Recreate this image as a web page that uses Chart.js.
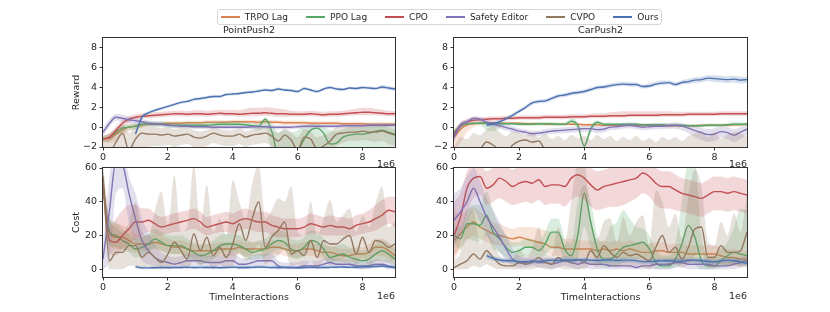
<!DOCTYPE html>
<html>
<head>
<meta charset="utf-8">
<script src="https://cdn.jsdelivr.net/npm/chart.js@4.4.1/dist/chart.umd.min.js"></script>
<style>
  body { margin: 0; background: #fff; width: 830px; height: 312px; overflow: hidden; position: relative; font-family: "DejaVu Sans", sans-serif; }
  canvas { position: absolute; }
  #legend { position: absolute; left: 217px; top: 9px; width: 443px; height: 14px; border: 1px solid #d6d6d6; border-radius: 3px;
            display: flex; align-items: center; justify-content: center; gap: 18px; font-size: 9px; color: #262626;
            background: rgba(255,255,255,0.85); z-index: 5; }
  .item { display: flex; align-items: center; white-space: nowrap; }
  .sw { width: 19px; height: 1.5px; margin-right: 5px; }
</style>
</head>
<body>
<div id="legend"></div>
<canvas id="pr" width="410" height="152" style="left:0;top:20px"></canvas>
<canvas id="cr" width="420" height="152" style="left:410px;top:20px"></canvas>
<canvas id="pc" width="410" height="162" style="left:0;top:150px"></canvas>
<canvas id="cc" width="420" height="162" style="left:410px;top:150px"></canvas>
<script>
// timesteps (x 1e6)
const X = [0,0.2,0.4,0.6,0.8, 1,1.2,1.4,1.6,1.8, 2,2.2,2.4,2.6,2.8, 3,3.2,3.4,3.6,3.8, 4,4.2,4.4,4.6,4.8,
           5,5.2,5.4,5.6,5.8, 6,6.2,6.4,6.6,6.8, 7,7.2,7.4,7.6,7.8, 8,8.2,8.4,8.6,8.8, 9];
const SERIES = ['TRPO Lag', 'PPO Lag', 'CPO', 'Safety Editor', 'CVPO', 'Ours'];
const COLORS = ['#dd8452', '#55a868', '#c44e52', '#8172b3', '#937860', '#4c72b0'];
const X_TICKS = [0, 2, 4, 6, 8];
const REWARD_TICKS = [-2, 0, 2, 4, 6, 8];
const COST_TICKS = [0, 20, 40, 60];
const N = null;

// PointPush2 reward
const prTrpo   = [-1.2,-1.1,-0.7,-0.3,0, 0.1,0.2,0.3,0.3,0.35, 0.4,0.4,0.4,0.45,0.45, 0.45,0.5,0.5,0.5,0.5, 0.55,0.55,0.55,0.55,0.5, 0.55,0.5,0.5,0.45,0.45, 0.45,0.45,0.4,0.4,0.4, 0.4,0.4,0.35,0.35,0.35, 0.35,0.3,0.3,0.3,0.3, 0.3];
const prTrpoLo = [-1.5,-1.6,-1.4,-0.9,-0.4, -0.2,-0.05,0.1,0.1,0.15, 0.2,0.2,0.2,0.25,0.25, 0.25,0.3,0.3,0.3,0.3, 0.35,0.35,0.35,0.35,0.3, 0.35,0.3,0.3,0.25,0.25, 0.25,0.25,0.2,0.2,0.2, 0.2,0.2,0.15,0.15,0.15, 0.15,0.1,0.1,0.1,0.1, 0.1];
const prTrpoHi = [-0.9,-0.7,-0.3,0.1,0.3, 0.35,0.45,0.5,0.5,0.55, 0.6,0.6,0.6,0.65,0.65, 0.65,0.7,0.7,0.7,0.7, 0.75,0.75,0.75,0.75,0.7, 0.75,0.7,0.7,0.65,0.65, 0.65,0.65,0.6,0.6,0.6, 0.6,0.6,0.55,0.55,0.55, 0.55,0.5,0.5,0.5,0.5, 0.5];
const prPpo    = [-1.2,-1,-0.5,-0.1,0, 0.1,0.3,0.35,0.3,0.3, 0.25,0.2,0.2,0.2,0.2, 0.2,0.2,0.25,0.3,0.3, 0.3,0.3,0.25,0.15,0.1, 0.8,-0.4,-3,-3.5,-3.2, -2.5,-1.2,-0.3,-0.1,-0.6, -1.7,-1.6,-1,-0.8,-0.7, -0.7,-0.6,-0.4,-0.3,-0.5, -0.7];
const prPpoLo  = [-1.5,-1.4,-0.9,-0.5,-0.3, -0.2,0,0.05,0,0, -0.05,-0.1,-0.1,-0.1,-0.1, -0.1,-0.1,-0.05,0,0, 0,0,-0.05,-0.15,-0.3, 0,-2.5,-4,-4,-4, -4,-4,-3,-2.5,-3, -4,-4,-3.5,-3,-2.8, -2.6,-2.5,-2.4,-2.3,-2.5, -2.6];
const prPpoHi  = [-0.9,-0.6,-0.1,0.25,0.3, 0.4,0.6,0.65,0.6,0.6, 0.55,0.5,0.5,0.5,0.5, 0.5,0.5,0.55,0.6,0.6, 0.6,0.6,0.55,0.45,0.4, 1,0.4,-0.5,-0.3,-0.5, -0.3,0.1,0.3,0.3,0.1, -0.3,-0.4,-0.2,0,0, 0,0.1,0.2,0.3,0.2, 0];
const prCpo    = [-1.2,-1,-0.3,0.4,0.8, 1,1.1,1.15,1.2,1.25, 1.3,1.35,1.35,1.3,1.35, 1.35,1.3,1.35,1.4,1.35, 1.35,1.3,1.35,1.4,1.4, 1.45,1.4,1.35,1.35,1.3, 1.3,1.3,1.35,1.3,1.25, 1.3,1.3,1.35,1.4,1.45, 1.5,1.5,1.45,1.4,1.35, 1.35];
const prCpoLo  = [-1.5,-1.4,-0.7,0,0.45, 0.7,0.85,0.9,0.95,1, 1.05,1.1,1.1,1.05,1.1, 1.1,1.05,1.1,1.15,1.1, 1.1,1.05,1.05,1.1,1.1, 1.15,1.1,1.05,1.05,1.05, 1.05,1.05,1.1,1.05,1, 1.05,1.05,1.1,1.15,1.2, 1.2,1.2,1.2,1.15,1.1, 1.1];
const prCpoHi  = [-0.9,-0.6,0.1,0.75,1.1, 1.3,1.4,1.45,1.5,1.55, 1.6,1.65,1.65,1.6,1.7, 1.7,1.65,1.7,1.75,1.7, 1.75,1.7,1.85,1.95,1.95, 2,1.95,1.85,1.8,1.65, 1.6,1.6,1.65,1.6,1.55, 1.6,1.6,1.65,1.75,1.85, 1.95,1.95,1.85,1.75,1.65, 1.6];
const prSafe   = [-0.5,0.4,1,0.9,0.75, 0.65,0.55,0.4,0.35,0.3, 0.2,0.15,0.1,0.1,0.05, 0.05,0.05,0,0,0, 0,0,0,0.05,0.05, 0.05,0,0,0,0, 0.05,0.1,0.1,0.1,0.1, 0.1,0.1,0.15,0.15,0.15, 0.15,0.2,0.2,0.2,0.2, 0.2];
const prSafeLo = [-0.9,0,0.65,0.55,0.4, 0.3,0.25,0.15,0.1,0.1, 0,-0.05,-0.1,-0.1,-0.15, -0.15,-0.15,-0.2,-0.2,-0.2, -0.2,-0.2,-0.2,-0.15,-0.15, -0.15,-0.2,-0.2,-0.2,-0.2, -0.15,-0.1,-0.1,-0.1,-0.1, -0.1,-0.1,-0.05,-0.05,-0.05, -0.05,0,0,0,0, 0];
const prSafeHi = [-0.1,0.8,1.35,1.25,1.1, 1,0.85,0.65,0.6,0.5, 0.4,0.35,0.3,0.3,0.25, 0.25,0.25,0.2,0.2,0.2, 0.2,0.2,0.2,0.25,0.25, 0.25,0.2,0.2,0.2,0.2, 0.25,0.3,0.3,0.3,0.3, 0.3,0.3,0.35,0.35,0.35, 0.35,0.4,0.4,0.4,0.4, 0.4];
const prCvpo   = [-2.5,-2.5,-1.5,-0.6,-2.3, -1.2,-0.6,-0.7,-0.7,-0.8, -0.7,-0.9,-0.8,-0.7,-1, -1.1,-0.9,-0.6,-0.8,-0.9, -0.9,-0.7,-1,-0.8,-0.7, -0.6,-0.9,-1.4,-0.8,-1.3, -2.3,-1,-1.2,-2.2,-1.9, -1.4,-0.7,-0.6,-0.5,-0.5, -0.4,-0.5,-0.5,-0.4,-0.6, -0.8];
const prCvpoLo = [-4,-4,-3,-2.5,-4, -3,-2.2,-2,-1.9,-1.9, -1.8,-2,-1.8,-1.7,-2, -2.1,-1.9,-1.6,-1.8,-1.9, -1.9,-1.7,-2,-1.8,-1.7, -1.6,-2,-2.6,-2,-2.5, -3.5,-2.4,-2.6,-3.5,-3.2, -2.8,-1.9,-1.6,-1.4,-1.4, -1.3,-1.4,-1.5,-1.4,-1.7, -1.9];
const prCvpoHi = [-1.5,-1.2,-0.4,0.2,-0.6, 0,0.1,0.05,0,-0.1, 0,-0.2,-0.1,-0.1,-0.3, -0.4,-0.3,0,-0.2,-0.3, -0.3,-0.1,-0.4,-0.2,-0.1, 0,-0.3,-0.6,-0.1,-0.5, -1,-0.2,-0.4,-1,-0.8, -0.5,0,0,0.1,0.1, 0.2,0.1,0.1,0.2,0, -0.2];
const prOurs   = [N,N,N,N,N, -0.7,1,1.45,1.7,1.9, 2.1,2.3,2.5,2.6,2.8, 2.9,3,3.1,3.1,3.3, 3.35,3.4,3.5,3.55,3.65, 3.75,3.7,3.85,3.75,3.7, 3.6,3.9,3.75,3.6,3.85, 4,3.85,3.8,3.95,3.9, 4,3.95,3.9,4.05,3.95, 3.85];
const prOursLo = [N,N,N,N,N, -0.9,0.8,1.3,1.55,1.75, 1.95,2.15,2.35,2.45,2.65, 2.75,2.85,2.95,2.95,3.15, 3.2,3.25,3.35,3.4,3.5, 3.6,3.55,3.7,3.6,3.55, 3.45,3.75,3.6,3.45,3.7, 3.85,3.7,3.65,3.8,3.75, 3.85,3.8,3.75,3.85,3.75, 3.65];
const prOursHi = [N,N,N,N,N, -0.5,1.2,1.6,1.85,2.05, 2.25,2.45,2.65,2.75,2.95, 3.05,3.15,3.25,3.25,3.45, 3.5,3.55,3.65,3.7,3.8, 3.9,3.85,4,3.9,3.85, 3.75,4.05,3.9,3.75,4, 4.15,4,3.95,4.1,4.05, 4.15,4.1,4.05,4.25,4.15, 4.05];

// CarPush2 reward
const crTrpo   = [-1,-0.2,0.2,0.35,0.4, 0.45,0.45,0.4,0.4,0.4, 0.4,0.35,0.35,0.35,0.3, 0.3,0.3,0.3,0.3,0.3, 0.25,0.25,0.25,0.2,0.2, 0.2,0.2,0.2,0.2,0.2, 0.2,0.2,0.15,0.15,0.15, 0.15,0.15,0.15,0.2,0.2, 0.2,0.2,0.2,0.25,0.25, 0.3];
const crTrpoLo = [-2.5,-1.5,-0.5,0,0.2, 0.25,0.3,0.25,0.25,0.25, 0.25,0.2,0.2,0.2,0.15, 0.15,0.15,0.15,0.15,0.15, 0.1,0.1,0.1,0.05,0.05, 0.05,0.05,0.05,0.05,0.05, 0.05,0.05,0,0,0, 0,0,0,0.05,0.05, 0.05,0.05,0.05,0.1,0.1, 0.15];
const crTrpoHi = [-0.3,0.2,0.4,0.55,0.6, 0.6,0.6,0.55,0.55,0.55, 0.55,0.5,0.5,0.5,0.45, 0.45,0.45,0.45,0.45,0.45, 0.4,0.4,0.4,0.35,0.35, 0.35,0.35,0.35,0.35,0.35, 0.35,0.35,0.3,0.3,0.3, 0.3,0.3,0.3,0.35,0.35, 0.35,0.35,0.35,0.4,0.4, 0.45];
const crPpo    = [-0.5,0.1,0.35,0.4,0.4, 0.4,0.35,0.35,0.35,0.35, 0.3,0.3,0.3,0.35,0.35, 0.35,0.3,0.3,0.6,0.2, -1.9,-0.2,0.5,0.3,0.3, 0.3,0.3,0.3,0.3,0.25, 0.25,0.25,0.25,0.2,0.2, 0.2,0.15,0.15,0.15,0.2, 0.2,0.2,0.25,0.3,0.3, 0.3];
const crPpoLo  = [-0.9,-0.2,0.2,0.25,0.2, -0.3,-0.4,-0.1,0.2,0.2, 0.15,0.15,0.15,0.2,0.2, 0.2,0.15,0.15,0.3,-0.2, -2.2,-0.6,0.3,0.15,0.15, 0.15,0.15,0.15,0.15,0.1, 0.1,0.1,0.1,0.05,0.05, 0.05,0,0,0,0.05, 0.05,0.05,0.1,0.15,0.15, 0.15];
const crPpoHi  = [-0.2,0.35,0.5,0.55,0.55, 0.55,0.5,0.5,0.5,0.5, 0.45,0.45,0.45,0.5,0.5, 0.5,0.45,0.45,0.9,0.5, -1.6,0.2,0.7,0.45,0.45, 0.45,0.45,0.45,0.45,0.4, 0.4,0.4,0.4,0.35,0.35, 0.35,0.3,0.3,0.3,0.35, 0.35,0.35,0.4,0.5,0.5, 0.45];
const crCpo    = [-0.8,0.2,0.55,0.7,0.75, 0.8,0.85,0.85,0.9,0.9, 0.95,0.95,0.95,0.95,1, 1,1,1,1.05,1.05, 1.05,1.1,1.1,1.1,1.15, 1.15,1.15,1.2,1.2,1.2, 1.2,1.2,1.25,1.25,1.25, 1.25,1.3,1.3,1.3,1.3, 1.3,1.35,1.35,1.35,1.35, 1.35];
const crCpoLo  = [-1.4,-0.3,0.3,0.5,0.55, 0.6,0.65,0.65,0.7,0.7, 0.75,0.75,0.75,0.75,0.8, 0.8,0.8,0.8,0.85,0.85, 0.85,0.9,0.9,0.9,0.95, 0.95,0.95,1,1,1, 1,1,1.05,1.05,1.05, 1.05,1.1,1.1,1.1,1.1, 1.1,1.15,1.15,1.15,1.15, 1.15];
const crCpoHi  = [-0.3,0.55,0.8,0.95,1, 1.05,1.1,1.1,1.15,1.15, 1.2,1.2,1.2,1.2,1.25, 1.25,1.25,1.25,1.3,1.3, 1.3,1.35,1.4,1.4,1.5, 1.55,1.6,1.6,1.6,1.6, 1.6,1.6,1.6,1.6,1.55, 1.55,1.55,1.55,1.55,1.55, 1.55,1.6,1.6,1.6,1.6, 1.6];
const crSafe   = [-1,0.25,0.55,0.9,0.8, 0.5,0.3,0.15,-0.05,-0.2, -0.4,-0.5,-0.65,-0.6,-0.5, -0.4,-0.35,-0.3,-0.25,-0.2, -0.15,-0.15,-0.25,-0.2,0, 0.05,0.15,0.2,0.1,0, 0.05,0.1,0.1,0.15,0.2, 0.1,-0.1,-0.35,-0.55,-0.75, -0.7,-0.45,-0.55,-0.8,-0.5, -0.2];
const crSafeLo = [-1.5,-0.1,0.3,0.65,0.55, 0.2,0,-0.15,-0.35,-0.5, -0.7,-0.8,-0.95,-0.9,-0.8, -0.7,-0.65,-0.6,-0.55,-0.5, -0.5,-0.45,-0.6,-0.5,-0.3, -0.25,-0.15,-0.1,-0.2,-0.3, -0.25,-0.2,-0.2,-0.15,-0.15, -0.3,-0.6,-1,-1.3,-1.5, -1.4,-1.1,-1.2,-1.5,-1.2, -0.8];
const crSafeHi = [-0.6,0.5,0.8,1.1,1.05, 0.8,0.6,0.45,0.25,0.1, -0.1,-0.2,-0.35,-0.3,-0.2, -0.1,-0.05,0,0.05,0.1, 0.15,0.2,0.1,0.15,0.3, 0.35,0.45,0.5,0.4,0.3, 0.35,0.4,0.4,0.45,0.5, 0.4,0.25,0.1,-0.05,-0.2, -0.1,0.1,0,-0.2,0.05, 0.3];
const crCvpo   = [-3,-3,-2.8,-2.6,-2.2, -1.5,-1.8,-2.3,-2.6,-1.8, -1.4,-1.3,-1.5,-1.4,-2.3, -2.8,-3,-3,-3,-3, -3,-3,-3,-3,-3, -3,-3,-3,-3,-3, -3,-3,-3,-3,-3, -3,-3,-3,-3,-3, -3,-3,-3,-3,-3, -3];
const crCvpoLo = [-4,-4,-4,-4,-4, -4,-4,-4,-4,-4, -4,-4,-4,-4,-4, -4,-4,-4,-4,-4, -4,-4,-4,-4,-4, -4,-4,-4,-4,-4, -4,-4,-4,-4,-4, -4,-4,-4,-4,-4, -4,-4,-4,-4,-4, -4];
const crCvpoHi = [-2,-1,-1.2,-0.6,-0.8, -0.2,0.1,-0.5,-0.9,-0.4, -0.6,-0.8,-0.5,-1,-0.7, -1.2,-0.9,-1.3,-0.8,-1.1, -0.9,-1.3,-0.8,-1.2,-0.9, -1.4,-1,-1.3,-0.9,-1.4, -1.1,-1.5,-1,-1.3,-1, -1.4,-0.9,-0.6,-0.4,-1, -0.5,-1.2,-0.8,-0.5,-0.6, -1];
const crOurs   = [N,N,N,N,N, 0.2,0.35,0.55,0.85,1.2, 1.6,2,2.45,2.6,2.65, 2.9,3.15,3.25,3.4,3.5, 3.6,3.8,4,4.05,4.2, 4.3,4.35,4.3,4.3,4.1, 4.15,4.35,4.45,4.5,4.3, 4.5,4.6,4.75,4.8,4.95, 4.9,4.85,4.8,4.85,4.75, 4.8];
const crOursLo = [N,N,N,N,N, 0,0.15,0.35,0.65,1, 1.4,1.8,2.25,2.4,2.45, 2.7,2.95,3.05,3.2,3.3, 3.4,3.6,3.8,3.85,4, 4.1,4.15,4.1,4.1,3.9, 3.95,4.15,4.25,4.3,4.1, 4.3,4.35,4.45,4.5,4.65, 4.55,4.5,4.45,4.5,4.4, 4.45];
const crOursHi = [N,N,N,N,N, 0.4,0.55,0.75,1.05,1.4, 1.8,2.2,2.65,2.8,2.85, 3.1,3.35,3.45,3.6,3.7, 3.8,4,4.2,4.25,4.4, 4.5,4.6,4.55,4.5,4.3, 4.4,4.6,4.7,4.7,4.55, 4.75,4.9,5.05,5.1,5.25, 5.25,5.2,5.15,5.2,5.1, 5.1];

// PointPush2 cost
const pcTrpo   = [50,22,19,19,17, 15,15,15,16,15, 14,13,13,12,11, 11,11,11,12,12, 12,13,12,12,12, 12,13,13,12,11, 11,12,12,11,10, 10,9,8,8,9, 9,10,13,13,11, 8];
const pcTrpoLo = [42,15,12,12,11, 10,11,11,12,11, 10,9,9,8,7, 7,7,7,8,8, 8,9,8,8,8, 8,9,9,8,7, 7,8,8,7,6, 6,5,4,4,5, 5,6,8,8,6, 3];
const pcTrpoHi = [58,30,27,26,24, 21,20,20,21,20, 18,17,17,16,15, 15,15,15,16,16, 16,17,16,16,16, 16,17,17,16,15, 15,16,16,15,14, 14,13,12,12,13, 13,15,18,18,16, 13];
const pcPpo    = [50,22,20,17,15, 12,13,15,18,16, 14,14,14,12,10, 8,9,11,14,15, 15,14,12,10,11, 12,15,17,16,12, 11,13,17,16,12, 7,8,9,7,6, 5,6,9,11,9, 6];
const pcPpoLo  = [42,14,13,11,10, 7,8,10,13,11, 9,9,9,7,5, 3,4,6,9,10, 10,9,7,5,6, 7,10,12,11,7, 6,8,12,11,7, 2,3,4,2,1, 0,1,4,6,4, 1];
const pcPpoHi  = [58,30,28,24,21, 18,19,21,24,22, 20,20,20,18,16, 14,15,17,20,21, 21,20,18,16,17, 18,21,23,22,18, 17,19,23,22,18, 13,14,15,13,12, 11,12,15,17,15, 12];
const pcCpo    = [50,17,16,20,24, 28,28,29,27,25, 26,27,28,29,30, 28,25,26,27,28, 27,29,30,29,28, 28,26,25,24,24, 24,25,27,26,25, 26,25,25,24,26, 27,28,30,32,35, 34];
const pcCpoLo  = [45,10,8,12,15, 18,20,22,21,20, 21,22,22,23,24, 22,20,21,22,22, 21,23,24,23,22, 22,20,19,19,19, 19,20,21,21,20, 20,20,20,19,20, 21,22,23,25,27, 25];
const pcCpoHi  = [58,25,30,35,38, 38,36,36,33,31, 32,33,34,35,36, 34,31,32,33,34, 33,35,36,35,34, 34,32,31,30,30, 30,31,33,32,31, 32,31,31,30,32, 33,35,38,41,43, 43];
const pcSafe   = [6,35,64,62,45, 30,17,11,7,5, 4,3,4,5,5, 5,4,4,4,5, 5,3,3,4,5, 5,5,2,1,1, 1,2,2,2,3, 4,3,3,3,2, 2,2,3,3,2, 1];
const pcSafeLo = [0,5,45,48,28, 15,5,3,2,1, 1,0,1,2,2, 2,1,1,1,2, 2,0,0,1,2, 2,2,0,0,0, 0,0,0,0,1, 1,1,1,1,0, 0,0,1,1,0, 0];
const pcSafeHi = [15,55,70,70,55, 45,30,22,15,10, 8,7,8,9,9, 9,8,8,8,9, 10,7,6,8,9, 9,9,5,4,4, 4,5,5,5,6, 7,6,6,6,5, 5,5,6,6,5, 4];
const pcCvpo   = [55,5,10,10,14, 14,7,10,7,4, 9,16,11,6,21, 11,19,8,13,7, 15,27,17,30,40, 13,19,23,28,9, 11,8,17,7,17, 15,15,18,20,9, 19,10,17,16,13, 15];
const pcCvpoLo = [45,0,0,0,2, 2,0,2,0,0, 1,3,2,0,5, 2,4,0,3,0, 2,10,5,8,15, 3,6,8,12,2, 3,1,5,0,5, 4,5,6,8,2, 7,2,5,4,4, 5];
const pcCvpoHi = [62,30,25,22,28, 40,22,20,35,46, 25,56,22,25,62, 25,50,22,30,20, 53,40,30,51,62, 30,35,42,40,49, 22,20,40,20,30, 41,28,32,36,22, 32,25,39,49,25, 28];
const pcOurs   = [N,N,N,N,N, 1.5,0.8,0.8,0.9,1, 0.9,1.1,1,1.2,1, 1.1,1,1,0.9,1.1, 1.2,1,1,1.1,1.3, 1.2,1,1,1.1,1, 0.9,1,1.2,1.1,1, 1.1,1.2,1.3,1.1,1.2, 1.4,1.5,1.6,1.9,1.5, 1];
const pcOursLo = [N,N,N,N,N, 0.5,0,0,0.1,0.2, 0.1,0.3,0.2,0.4,0.2, 0.3,0.2,0.2,0.1,0.3, 0.4,0.2,0.2,0.3,0.5, 0.4,0.2,0.2,0.3,0.2, 0.1,0.2,0.4,0.3,0.2, 0.3,0.4,0.5,0.3,0.4, 0.6,0.7,0.8,1,0.7, 0.2];
const pcOursHi = [N,N,N,N,N, 2.5,1.8,1.8,1.9,2, 1.9,2.1,2,2.2,2, 2.1,2,2,1.9,2.1, 2.2,2,2,2.1,2.3, 2.2,2,2,2.1,2, 1.9,2,2.2,2.1,2, 2.1,2.2,2.3,2.1,2.2, 2.4,2.5,2.6,2.9,2.5, 2];

// CarPush2 cost
const ccTrpo   = [17,21,25,28,25, 23,21,20,19,18, 19,18,17,16,15, 13,13,12,12,12, 12,12,11,12,11, 12,11,12,11,10, 10,11,11,10,10, 10,9,9,9,9, 9,8,7,7,6, 6];
const ccTrpoLo = [5,12,17,20,18, 16,15,14,14,13, 14,13,12,11,10, 8,8,7,7,7, 7,7,6,7,6, 7,6,7,6,5, 5,6,6,5,5, 5,4,4,4,4, 4,3,2,2,1, 1];
const ccTrpoHi = [35,32,35,37,34, 31,28,27,25,24, 25,25,25,24,23, 22,21,18,18,17, 17,17,16,17,16, 17,16,17,16,15, 15,16,16,15,15, 15,14,14,14,14, 14,13,12,12,11, 11];
const ccPpo    = [20,18,27,27,26, 32,22,18,13,10, 11,13,13,11,15, 22,22,12,8,20, 45,28,12,6,6, 9,13,14,15,16, 12,4,2,2,6, 15,26,19,5,2, 2,5,8,10,9, 8];
const ccPpoLo  = [15,12,18,17,16, 20,12,10,7,5, 6,8,8,7,8, 12,12,6,3,6, 25,12,4,1,1, 2,4,5,6,7, 5,0,0,0,1, 3,5,3,0,0, 0,1,2,3,2, 2];
const ccPpoHi  = [25,25,35,38,38, 46,35,25,20,16, 16,18,18,16,22, 30,30,18,15,40, 50,40,20,16,25, 28,35,30,25,24, 20,12,8,8,15, 40,64,64,20,8, 8,12,16,25,36, 35];
const ccCpo    = [20,31,48,54,55, 48,50,54,52,49, 51,52,51,53,49, 50,50,49,54,56, 54,50,47,49,50, 51,52,53,54,57, 55,51,49,49,47, 45,44,43,42,44, 46,46,45,46,45, 44];
const ccCpoLo  = [8,15,33,42,44, 38,40,42,40,38, 39,40,39,41,38, 39,39,37,41,43, 41,37,35,36,37, 37,38,40,42,45, 43,38,36,36,35, 34,33,32,31,33, 35,35,34,35,34, 33];
const ccCpoHi  = [40,45,58,62,62, 58,60,62,61,59, 61,62,61,62,60, 60,61,60,62,63, 62,60,58,59,60, 61,61,61,62,63, 62,60,58,58,56, 54,53,52,51,53, 55,55,54,55,54, 53];
const ccSafe   = [29,34,40,48,40, 31,25,19,12,6, 4,4,5,4,4, 3,4,5,4,3, 4,3,3,3,2, 2,2,2,1,2, 2,3,3,3,4, 4,3,3,3,3, 2,2,2,3,4, 5];
const ccSafeLo = [15,20,28,35,28, 20,15,10,5,2, 1,1,2,1,1, 0,1,2,1,0, 1,0,0,0,0, 0,0,0,0,0, 0,0,0,0,1, 1,0,0,0,0, 0,0,0,0,1, 2];
const ccSafeHi = [45,48,55,60,52, 42,35,28,20,12, 8,7,8,7,7, 6,7,8,7,6, 7,6,6,6,5, 5,5,5,4,5, 5,6,6,6,7, 7,6,6,6,6, 5,5,5,6,7, 8];
const ccCvpo   = [1,3,5,9,6, 11,7,3,2,2, 4,3,4,7,4, 3,7,5,5,6, 4,11,7,14,10, 7,10,8,9,7, 5,13,20,10,13, 6,13,24,25,7, 7,14,10,10,11, 22];
const ccCvpoLo = [0,0,0,2,1, 3,1,0,0,0, 0,0,0,1,0, 0,1,0,0,0, 0,3,1,4,2, 1,2,1,2,1, 0,3,6,2,3, 1,3,8,10,1, 1,3,2,2,2, 6];
const ccCvpoHi = [5,10,30,35,15, 22,16,8,6,6, 12,8,12,25,10, 8,25,14,40,62, 62,30,18,28,30, 16,31,20,28,32, 14,47,40,25,33, 18,43,59,49,16, 14,28,20,33,22, 45];
const ccOurs   = [N,N,N,N,N, 8,6.5,5.5,5,5, 4.5,4.5,4.5,4.8,5, 5.4,5.2,5.5,5.3,5.4, 5.5,5.4,5.2,5.4,5.5, 5.3,5.4,5.4,5,4.5, 4.5,4.8,5,5,4.8, 4.8,5.2,5.4,5,4.6, 4.4,5,5.4,5,4.4, 3.5];
const ccOursLo = [N,N,N,N,N, 6,5,4,3.5,3.5, 3,3,3,3.3,3.5, 3.9,3.7,4,3.8,3.9, 4,3.9,3.7,3.9,4, 3.8,3.9,3.9,3.5,3, 3,3.3,3.5,3.5,3.3, 3.3,3.7,3.9,3.5,3.1, 2.9,3.5,3.9,3.5,2.9, 2];
const ccOursHi = [N,N,N,N,N, 10,8,7,6.5,6.5, 6,6,6,6.3,6.5, 6.9,6.7,7,6.8,6.9, 7,6.9,6.7,6.9,7, 6.8,6.9,6.9,6.5,6, 6,6.3,6.5,6.5,6.3, 6.3,6.7,6.9,6.5,6.1, 5.9,6.5,6.9,6.5,5.9, 5];

const TEXT = '#262626';
const FRAME = '#333333';
Chart.defaults.font.family = '"DejaVu Sans", sans-serif';
Chart.defaults.font.size = 9.5;
Chart.defaults.color = TEXT;

function rgba(hex, a) {
  const n = parseInt(hex.slice(1), 16);
  return `rgba(${n >> 16},${(n >> 8) & 255},${n & 255},${a})`;
}

// axes box + the matplotlib style "1e6" offset label
const frameOffset = {
  id: 'frameOffset',
  afterDraw(chart, args, opts) {
    const { ctx, chartArea: a } = chart;
    ctx.save();
    ctx.strokeStyle = FRAME;
    ctx.lineWidth = 1;
    ctx.strokeRect(a.left - 0.5, a.top - 0.5, a.right - a.left + 1, a.bottom - a.top + 1);
    ctx.fillStyle = TEXT;
    ctx.font = '9.5px "DejaVu Sans"';
    ctx.textAlign = 'right';
    ctx.textBaseline = 'middle';
    ctx.fillText('1e6', a.right, a.bottom + opts.offsetY);
    ctx.restore();
  }
};

function panel(id, p) {
  const pts = arr => X.map((x, i) => ({ x: x, y: arr[i] }));
  const datasets = [];
  p.mean.forEach((m, k) => {
    const base = { pointRadius: 0, cubicInterpolationMode: 'monotone' };
    datasets.push({ ...base, data: pts(p.lo[k]), borderWidth: 0, fill: false, order: 100 - 3 * k });
    datasets.push({ ...base, data: pts(p.hi[k]), borderWidth: 0, fill: '-1',
                    backgroundColor: rgba(COLORS[k], 0.22), order: 99 - 3 * k });
    datasets.push({ ...base, label: SERIES[k], data: pts(m), borderColor: COLORS[k],
                    borderWidth: 1.4, fill: false, order: 98 - 3 * k });
  });
  const tickGrid = { drawOnChartArea: false, drawTicks: true, tickLength: 3.5, tickColor: FRAME, tickWidth: 1 };
  new Chart(document.getElementById(id), {
    type: 'line',
    data: { datasets },
    plugins: [frameOffset],
    options: {
      responsive: false,
      animation: false,
      events: [],
      layout: { padding: p.pad },
      plugins: {
        legend: { display: false },
        tooltip: { enabled: false },
        title: p.title ? { display: true, text: p.title, fullSize: false, color: TEXT,
                           font: { size: 9.5, weight: 'normal' }, padding: { top: 5.3, bottom: 1.3 } }
                       : { display: false },
        frameOffset: { offsetY: p.offY }
      },
      scales: {
        x: {
          type: 'linear', min: 0, max: 9,
          afterBuildTicks: s => { s.ticks = X_TICKS.map(v => ({ value: v })); },
          ticks: { padding: 1, maxRotation: 0, autoSkip: false, color: TEXT },
          grid: tickGrid,
          border: { display: false },
          title: { display: !!p.xTitle, text: p.xTitle || '', color: TEXT, font: { size: 9.5 },
                   padding: { top: 0, bottom: 9 } },
          afterFit: s => { s.height = p.xh; }
        },
        y: {
          min: p.ymin, max: p.ymax,
          afterBuildTicks: s => { s.ticks = p.yticks.map(v => ({ value: v })); },
          ticks: { padding: 2.5, color: TEXT, callback: v => String(v).replace('-', '\u2212') },
          grid: tickGrid,
          border: { display: false },
          title: { display: !!p.yTitle, text: p.yTitle || '', color: TEXT, font: { size: 9.5 },
                   padding: { top: 4.3, bottom: 0 } },
          afterFit: s => { s.width = 36; }
        }
      }
    }
  });
}

panel('pr', {
  title: 'PointPush2', yTitle: 'Reward', ymin: -2, ymax: 9, yticks: REWARD_TICKS,
  pad: { left: 67, right: 15, top: 0, bottom: 0 }, xh: 25, offY: 18,
  mean: [prTrpo, prPpo, prCpo, prSafe, prCvpo, prOurs],
  lo: [prTrpoLo, prPpoLo, prCpoLo, prSafeLo, prCvpoLo, prOursLo],
  hi: [prTrpoHi, prPpoHi, prCpoHi, prSafeHi, prCvpoHi, prOursHi]
});
panel('cr', {
  title: 'CarPush2', ymin: -2, ymax: 9, yticks: REWARD_TICKS,
  pad: { left: 8, right: 83, top: 0, bottom: 0 }, xh: 25, offY: 18,
  mean: [crTrpo, crPpo, crCpo, crSafe, crCvpo, crOurs],
  lo: [crTrpoLo, crPpoLo, crCpoLo, crSafeLo, crCvpoLo, crOursLo],
  hi: [crTrpoHi, crPpoHi, crCpoHi, crSafeHi, crCvpoHi, crOursHi]
});
panel('pc', {
  yTitle: 'Cost', xTitle: 'TimeInteractions', ymin: -4.6, ymax: 60, yticks: COST_TICKS,
  pad: { left: 67, right: 15, top: 18, bottom: 0 }, xh: 35, offY: 20,
  mean: [pcTrpo, pcPpo, pcCpo, pcSafe, pcCvpo, pcOurs],
  lo: [pcTrpoLo, pcPpoLo, pcCpoLo, pcSafeLo, pcCvpoLo, pcOursLo],
  hi: [pcTrpoHi, pcPpoHi, pcCpoHi, pcSafeHi, pcCvpoHi, pcOursHi]
});
panel('cc', {
  xTitle: 'TimeInteractions', ymin: -4.6, ymax: 60, yticks: COST_TICKS,
  pad: { left: 8, right: 83, top: 18, bottom: 0 }, xh: 35, offY: 20,
  mean: [ccTrpo, ccPpo, ccCpo, ccSafe, ccCvpo, ccOurs],
  lo: [ccTrpoLo, ccPpoLo, ccCpoLo, ccSafeLo, ccCvpoLo, ccOursLo],
  hi: [ccTrpoHi, ccPpoHi, ccCpoHi, ccSafeHi, ccCvpoHi, ccOursHi]
});

// legend
const legend = document.getElementById('legend');
SERIES.forEach((name, k) => {
  const item = document.createElement('div');
  item.className = 'item';
  item.innerHTML = `<span class="sw" style="background:${COLORS[k]}"></span><span>${name}</span>`;
  legend.appendChild(item);
});
</script>
</body>
</html>
